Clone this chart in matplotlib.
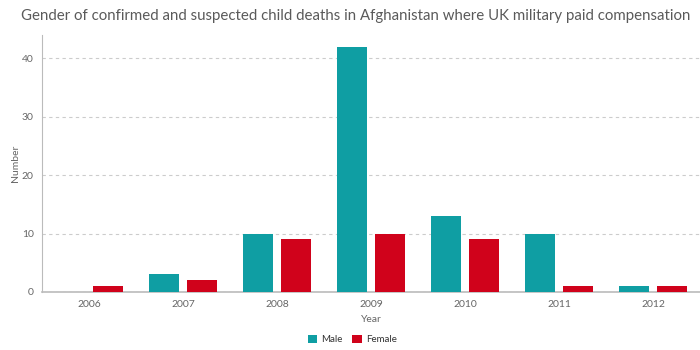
import matplotlib.pyplot as plt
import numpy as np

years = ["2006", "2007", "2008", "2009", "2010", "2011", "2012"]
male = [0, 3, 10, 42, 13, 10, 1]
female = [1, 2, 9, 10, 9, 1, 1]

plt.rcParams['font.family'] = ['Lato', 'DejaVu Sans']
teal = "#0f9ea3"
red = "#d0021b"

fig = plt.figure(figsize=(7, 3.5), dpi=100)
ax = fig.add_axes([0.06, 0.166, 0.94, 0.734])

x = np.arange(len(years))
w = 0.32
ax.bar(x - 0.2, male, w, color=teal, label="Male", zorder=3)
ax.bar(x + 0.2, female, w, color=red, label="Female", zorder=3)

ax.set_xlim(-0.5, 6.5)
ax.set_ylim(0, 44)
ax.set_yticks([0, 10, 20, 30, 40])
ax.set_xticks(x)
ax.set_xticklabels(years)
ax.tick_params(axis='both', length=0, labelsize=7.5, colors="#666666", pad=6)
ax.grid(axis='y', linestyle=(0, (3, 3)), color="#cccccc", linewidth=0.8, zorder=0)
for s in ["top", "right"]:
    ax.spines[s].set_visible(False)
ax.spines["left"].set_color("#bbbbbb")
ax.spines["bottom"].set_color("#bbbbbb")
ax.spines["bottom"].set_linewidth(1.2)

ax.set_ylabel("Number", fontsize=7.5, color="#666666", labelpad=1)
ax.set_xlabel("Year", fontsize=7.5, color="#666666", labelpad=4)

fig.text(0.03, 0.955, "Gender of confirmed and suspected child deaths in Afghanistan where UK military paid compensation",
         fontsize=10.8, color="#5a5a5a", va="center", ha="left")

fig.legend(loc="center", bbox_to_anchor=(0.503, 0.03), ncol=2, frameon=False,
           fontsize=7, handlelength=1.0, handleheight=1.0, columnspacing=1.0,
           handletextpad=0.4, labelcolor="#333333")

plt.savefig("out.png", dpi=100)
